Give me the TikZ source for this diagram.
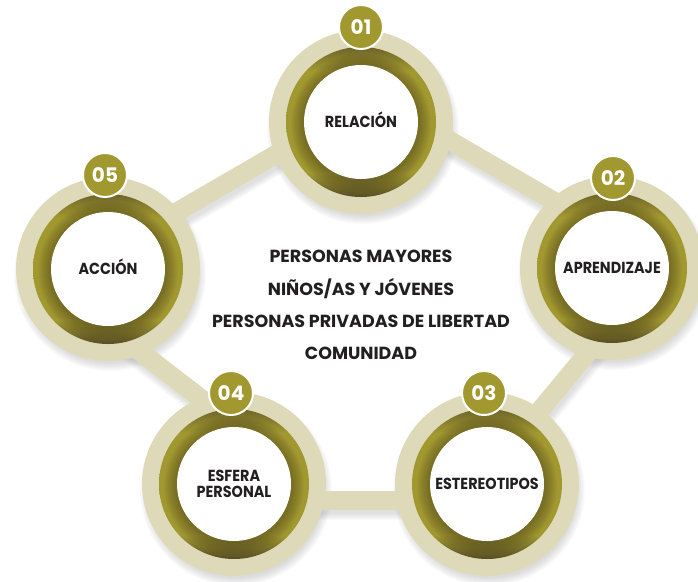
\documentclass[tikz,border=0pt]{standalone}
\usepackage{fontspec}
\setmainfont{Poppins}
\newfontfamily\labfont{Poppins}[FakeStretch=0.9]
\usetikzlibrary{calc}
\definecolor{beige}{HTML}{DEDAB9}
\definecolor{oliv}{HTML}{A29830}
\definecolor{olivd}{HTML}{554C24}
\definecolor{olivm}{HTML}{6E6428}
\definecolor{ink}{HTML}{231F20}
\definecolor{shd}{HTML}{8C8C8C}
\pgfdeclareverticalshading{ringv}{100bp}{color(0bp)=(olivd); color(25bp)=(olivd); color(33bp)=(oliv); color(67bp)=(oliv); color(75bp)=(olivm); color(100bp)=(olivm)}
\pgfdeclarelayer{shadowL}
\pgfdeclarelayer{connL}
\pgfdeclarelayer{discL}
\pgfsetlayers{shadowL,connL,discL,main}
\tikzset{
  conn/.style={draw=beige, line width=19pt},
  hub/.style={circle, minimum size=114pt, inner sep=0pt, fill=white, text=ink,
    font=\labfont\bfseries\fontsize{16}{16.5}\selectfont, align=center},
  oneline/.style={text height=11.4pt, text depth=0pt},
  badge/.style={circle, fill=oliv, draw=white, line width=2pt, minimum size=44pt,
    inner sep=0pt, text=white, font=\bfseries\fontsize{20}{20}\selectfont},
  centre/.style={anchor=base, text=ink, inner sep=0pt, font=\bfseries\fontsize{17.5}{17.5}\selectfont}
}
\begin{document}
\begin{tikzpicture}[x=1pt,y=-1pt]
\useasboundingbox (0,0) rectangle (698,581);
% stations
\node[hub,oneline] (n1) at (361,122) {RELACIÓN};
\node[hub,oneline] (n2) at (612,268) {APRENDIZAJE};
\node[hub,oneline] (n3) at (487,484) {ESTEREOTIPOS};
\node[hub] (n4) at (234,484) {ESFERA\\PERSONAL};
\node[hub,oneline] (n5) at (108,269) {ACCIÓN};
% badges
\node[badge] (b1) at (361,27) {01};
\node[badge] (b2) at (613,178) {02};
\node[badge] (b3) at (484,393) {03};
\node[badge] (b4) at (231,393) {04};
\node[badge] (b5) at (105,175) {05};
% centre text
\node[centre] (t1) at (361,262) {PERSONAS MAYORES};
\node[centre] (t2) at (361,295) {NIÑOS/AS Y JÓVENES};
\node[centre] (t3) at (361,327) {PERSONAS PRIVADAS DE LIBERTAD};
\node[centre] (t4) at (361,359) {COMUNIDAD};
% discs
\begin{pgfonlayer}{discL}
\foreach \n in {n1,n2,n3,n4,n5}{
  \fill[beige] (\n.center) circle (92pt);
  \shade[shading=ringv] (\n.center) circle (75pt);
  \begin{scope}
    \clip (\n.center) circle (75pt);
    \foreach \k in {1,...,14}{
      \fill[olivd, fill opacity=0.05] ($(\n.center)+(0,2)$) circle ({(56+\k)*1pt});
    }
  \end{scope}
}
\end{pgfonlayer}
\begin{pgfonlayer}{shadowL}
\foreach \n in {n1,n2,n3,n4,n5}{
  \foreach \k in {0,...,8}{
    \fill[shd, fill opacity=0.04] ($(\n.center)+(2,6)$) circle ({(88+\k)*1pt});
  }
}
\end{pgfonlayer}
% connectors
\foreach \a/\b/\ax/\ay/\bx/\by in {n5/n1/0/-17/0/-17, n1/n2/0/-33/0/-33, n2/n3/46/0/-8/0, n3/n4/0/16/0/16, n4/n5/0/-60/0/58}{
  \begin{pgfonlayer}{shadowL}
    \foreach \w in {0,2,...,12}{
      \draw[shd, draw opacity=0.045, line width={(15+\w)*1pt}] ($(\a)+(\ax+2,\ay+6)$) -- ($(\b)+(\bx+2,\by+6)$);
    }
  \end{pgfonlayer}
  \begin{pgfonlayer}{connL}
    \draw[conn] ($(\a)+(\ax,\ay)$) -- ($(\b)+(\bx,\by)$);
  \end{pgfonlayer}
}
\end{tikzpicture}
\end{document}
